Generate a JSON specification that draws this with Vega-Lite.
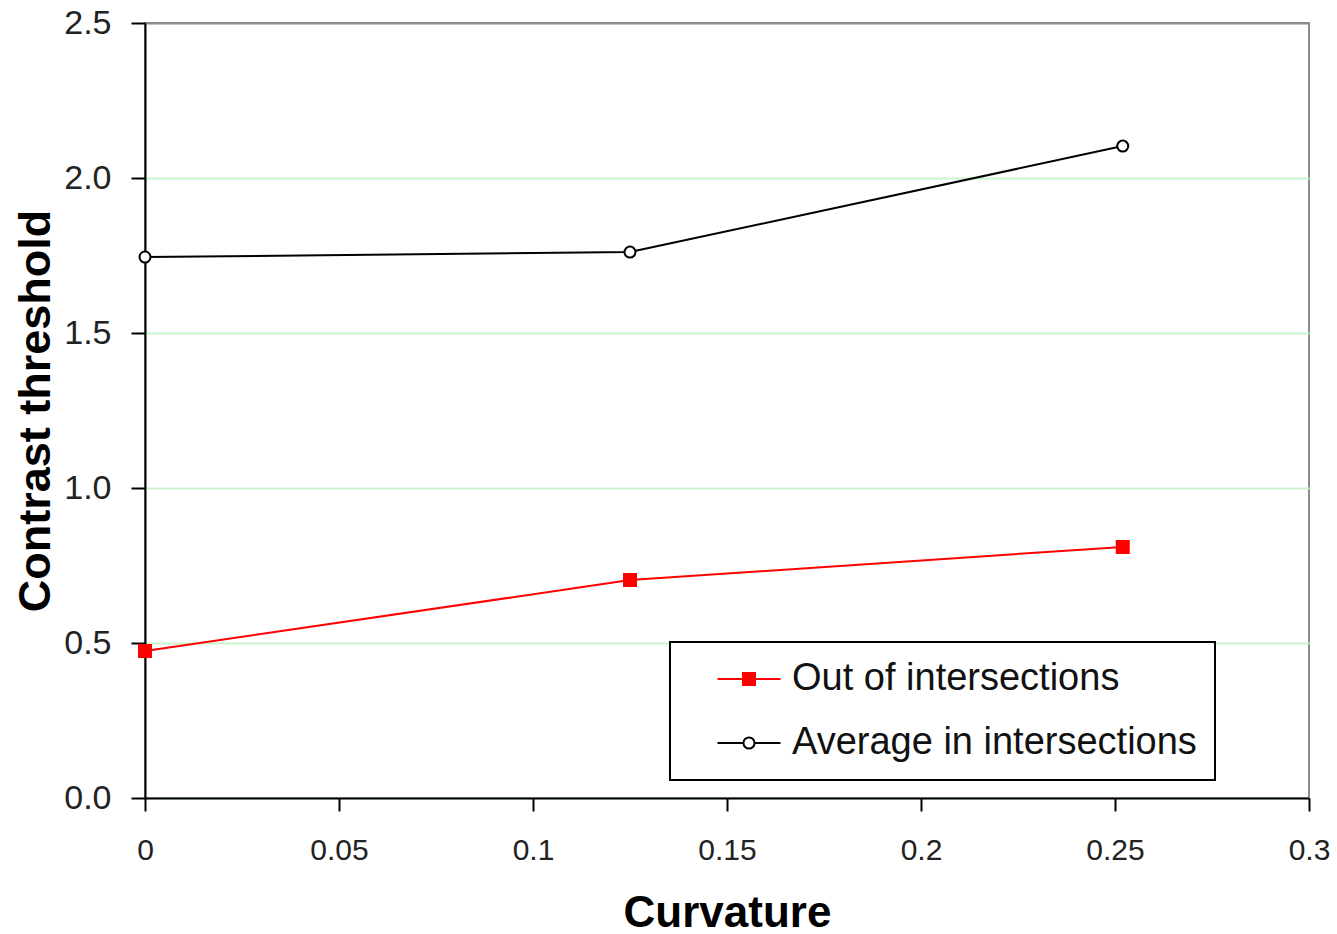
{
  "$schema": "https://vega.github.io/schema/vega-lite/v6.json",
  "autosize": "none",
  "width": 1164,
  "height": 775,
  "padding": {"left": 145, "top": 23, "right": 28, "bottom": 136},
  "background": "white",
  "config": {
    "view": {"stroke": "#8c8c8c", "strokeWidth": 2},
    "font": "Liberation Sans",
    "legend": {
      "title": null,
      "orient": "none",
      "legendX": 525,
      "legendY": 619,
      "fillColor": "white",
      "strokeColor": "black",
      "padding": 18,
      "labelFontSize": 38,
      "labelColor": "#111",
      "labelLimit": 0,
      "symbolType": "M0.7,0H2.4M3.2,0H4.9M2.4,-0.4H3.2V0.4H2.4Z",
      "symbolSize": 900,
      "symbolStrokeWidth": 2,
      "labelOffset": 66,
      "rowPadding": 26
    }
  },
  "data": {
    "values": [
      {"curvature": 0, "threshold": 0.474, "series": "Out of intersections"},
      {"curvature": 0.125, "threshold": 0.703, "series": "Out of intersections"},
      {"curvature": 0.252, "threshold": 0.81, "series": "Out of intersections"},
      {"curvature": 0, "threshold": 1.745, "series": "Average in intersections"},
      {"curvature": 0.125, "threshold": 1.761, "series": "Average in intersections"},
      {"curvature": 0.252, "threshold": 2.103, "series": "Average in intersections"}
    ]
  },
  "encoding": {
    "x": {
      "field": "curvature",
      "type": "quantitative",
      "scale": {"domain": [0, 0.3], "nice": false, "zero": false},
      "axis": {
        "title": "Curvature",
        "values": [0, 0.05, 0.1, 0.15, 0.2, 0.25, 0.3],
        "format": "~g",
        "grid": false,
        "domainColor": "black",
        "domainWidth": 2,
        "tickColor": "black",
        "tickWidth": 2,
        "tickSize": 13,
        "labelFontSize": 30,
        "labelColor": "#222",
        "labelPadding": 24,
        "labelFlush": false,
        "titleFontSize": 44,
        "titleFontWeight": "bold",
        "titleColor": "black",
        "titlePadding": 26
      }
    },
    "y": {
      "field": "threshold",
      "type": "quantitative",
      "scale": {"domain": [0, 2.5], "nice": false},
      "axis": {
        "title": "Contrast threshold",
        "values": [0, 0.5, 1, 1.5, 2, 2.5],
        "format": ".1f",
        "grid": true,
        "gridColor": {"condition": {"test": "datum.value > 2.4", "value": "#8c8c8c"}, "value": "#ccf5cc"},
        "gridWidth": 2,
        "domainColor": "black",
        "domainWidth": 2,
        "tickColor": "black",
        "tickWidth": 2,
        "tickSize": 14,
        "labelFontSize": 34,
        "labelColor": "#222",
        "labelPadding": 20,
        "titleFontSize": 45,
        "titleFontWeight": "bold",
        "titleColor": "black",
        "titlePadding": 5
      }
    }
  },
  "layer": [
    {
      "mark": {"type": "line", "strokeWidth": 2},
      "encoding": {
        "stroke": {
          "field": "series",
          "type": "nominal",
          "scale": {"domain": ["Out of intersections", "Average in intersections"], "range": ["#ff0000", "#000000"]},
          "legend": {
            "encode": {
              "symbols": {"update": {"shape": {"signal": "datum.value == 'Out of intersections' ? 'M0.7,0H2.4M3.2,0H4.9M2.4,-0.4H3.2V0.4H2.4Z' : 'M0.7,0H2.43M3.17,0H4.9M3.17,0A0.37,0.37 0 1,1 2.43,0A0.37,0.37 0 1,1 3.17,0Z'"}}},
              "legend": {"update": {"strokeWidth": {"value": 2}}}
            }
          }
        }
      }
    },
    {
      "transform": [{"filter": "datum.series == 'Out of intersections'"}],
      "mark": {"type": "point", "shape": "square", "strokeWidth": 2, "opacity": 1, "size": 144},
      "encoding": {
        "stroke": {"field": "series", "type": "nominal"},
        "fill": {
          "field": "series",
          "type": "nominal",
          "scale": {"domain": ["Out of intersections", "Average in intersections"], "range": ["#ff0000", "#ffffff"]},
          "legend": {
            "encode": {
              "symbols": {"update": {"shape": {"signal": "datum.value == 'Out of intersections' ? 'M0.7,0H2.4M3.2,0H4.9M2.4,-0.4H3.2V0.4H2.4Z' : 'M0.7,0H2.43M3.17,0H4.9M3.17,0A0.37,0.37 0 1,1 2.43,0A0.37,0.37 0 1,1 3.17,0Z'"}}},
              "legend": {"update": {"strokeWidth": {"value": 2}}}
            }
          }
        }
      }
    },
    {
      "transform": [{"filter": "datum.series == 'Average in intersections'"}],
      "mark": {"type": "point", "shape": "circle", "strokeWidth": 2, "opacity": 1, "size": 121},
      "encoding": {
        "stroke": {"field": "series", "type": "nominal"},
        "fill": {"field": "series", "type": "nominal"}
      }
    }
  ]
}
